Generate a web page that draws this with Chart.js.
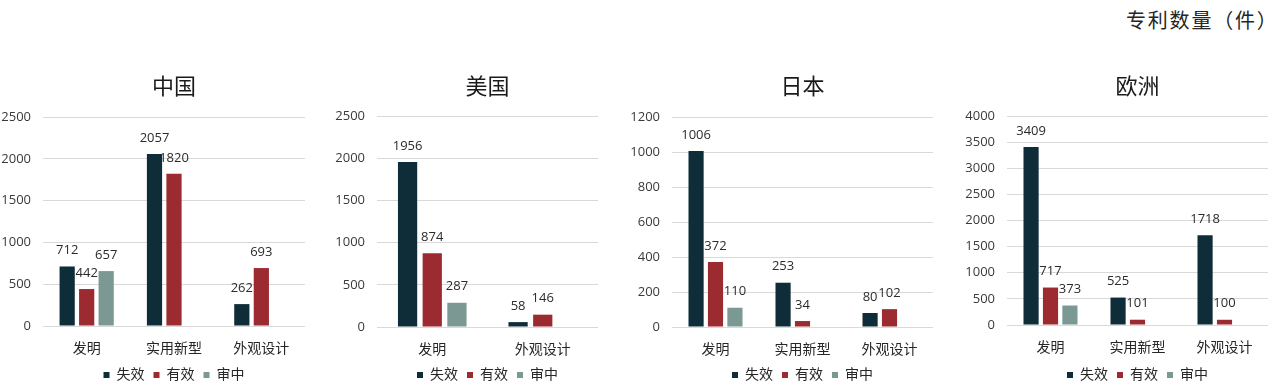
<!DOCTYPE html>
<html>
<head>
<meta charset="utf-8">
<script src="https://cdn.jsdelivr.net/npm/chart.js@4/dist/chart.umd.min.js"></script>
<style>
  html, body { margin: 0; padding: 0; background: #ffffff; }
  body { width: 1269px; height: 392px; position: relative; overflow: hidden; }
  canvas { position: absolute; }
  #unit { position: absolute; left: 1126px; top: 8px; font: 20px 'Noto Sans CJK SC', sans-serif; line-height: 24px; color: #262626; letter-spacing: 1.8px; white-space: nowrap; }
</style>
</head>
<body>
<div id="unit">专利数量（件）</div>
<canvas id="c1" width="320" height="332" style="left:0px;top:60px"></canvas>
<canvas id="c2" width="300" height="332" style="left:320px;top:60px"></canvas>
<canvas id="c3" width="325" height="332" style="left:620px;top:60px"></canvas>
<canvas id="c4" width="324" height="332" style="left:945px;top:60px"></canvas>
<script>
// ---- data ----
const seriesNames = ['失效', '有效', '审中'];
const seriesColors = ['#0f2c39', '#9b2a31', '#7b9992'];

const chinaTitle = '中国';
const chinaCategories = ['发明', '实用新型', '外观设计'];
const chinaLapsed = [712, 2057, 262];
const chinaValid = [442, 1820, 693];
const chinaPending = [657, null, null];
const chinaTicks = { max: 2500, step: 500 };

const usTitle = '美国';
const usCategories = ['发明', '外观设计'];
const usLapsed = [1956, 58];
const usValid = [874, 146];
const usPending = [287, null];
const usTicks = { max: 2500, step: 500 };

const japanTitle = '日本';
const japanCategories = ['发明', '实用新型', '外观设计'];
const japanLapsed = [1006, 253, 80];
const japanValid = [372, 34, 102];
const japanPending = [110, null, null];
const japanTicks = { max: 1200, step: 200 };

const europeTitle = '欧洲';
const europeCategories = ['发明', '实用新型', '外观设计'];
const europeLapsed = [3409, 525, 1718];
const europeValid = [717, 101, 100];
const europePending = [373, null, null];
const europeTicks = { max: 4000, step: 500 };

// ---- rendering ----
const FONT = "'Open Sans', 'Noto Sans CJK SC', sans-serif";

const valueLabels = {
  id: 'valueLabels',
  afterDatasetsDraw(chart) {
    const ctx = chart.ctx;
    ctx.save();
    ctx.font = '13px ' + FONT;
    ctx.fillStyle = '#2b2b2b';
    ctx.textAlign = 'center';
    ctx.textBaseline = 'middle';
    chart.data.datasets.forEach((ds, i) => {
      const meta = chart.getDatasetMeta(i);
      meta.data.forEach((el, j) => {
        const v = ds.data[j];
        if (v === null || v === undefined) return;
        ctx.fillText(String(v), el.x, el.y - 16);
      });
    });
    ctx.restore();
  }
};

function makeChart(id, title, categories, lapsed, valid, pending, ticks, lay) {
  const data = [lapsed, valid, pending];
  new Chart(document.getElementById(id), {
    type: 'bar',
    data: {
      labels: categories,
      datasets: seriesNames.map((name, i) => ({
        label: name,
        data: data[i],
        backgroundColor: seriesColors[i],
        borderColor: seriesColors[i],
        borderWidth: 0,
        categoryPercentage: 0.67,
        barPercentage: 0.78
      }))
    },
    options: {
      responsive: false,
      animation: false,
      devicePixelRatio: 1,
      layout: { padding: { left: 0, right: lay.padRight, top: 0, bottom: 0 } },
      plugins: {
        title: {
          display: true, text: title, fullSize: false,
          color: '#1a1a1a',
          font: { family: FONT, size: 22, weight: 'normal', lineHeight: 1.2 },
          padding: { top: 15, bottom: lay.plotTop - 15 - 26.4 }
        },
        legend: {
          display: true, position: 'bottom', fullSize: false,
          labels: {
            boxWidth: 6, boxHeight: 6, padding: 9,
            color: '#262626',
            font: { family: FONT, size: 14 }
          }
        },
        tooltip: { enabled: false }
      },
      scales: {
        x: {
          grid: { display: false },
          border: { display: false },
          ticks: { color: '#262626', padding: 7, font: { family: FONT, size: 14 } },
          afterFit(scale) { scale.height = 300 - lay.plotBottom; }
        },
        y: {
          min: 0, max: ticks.max,
          grid: { color: '#d9d9d9', lineWidth: 1, drawTicks: false },
          border: { display: false },
          ticks: {
            stepSize: ticks.step, color: '#3a3a3a', padding: 12,
            font: { family: FONT, size: 13 },
            callback: (v) => String(v)
          },
          afterFit(scale) { scale.width = lay.yWidth; }
        }
      }
    },
    plugins: [valueLabels]
  });
}

makeChart('c1', chinaTitle, chinaCategories, chinaLapsed, chinaValid, chinaPending, chinaTicks,
  { yWidth: 43, padRight: 15, plotTop: 57, plotBottom: 267 });
makeChart('c2', usTitle, usCategories, usLapsed, usValid, usPending, usTicks,
  { yWidth: 57, padRight: 22, plotTop: 56, plotBottom: 268 });
makeChart('c3', japanTitle, japanCategories, japanLapsed, japanValid, japanPending, japanTicks,
  { yWidth: 52, padRight: 12, plotTop: 57, plotBottom: 268 });
makeChart('c4', europeTitle, europeCategories, europeLapsed, europeValid, europePending, europeTicks,
  { yWidth: 62, padRight: 1, plotTop: 56, plotBottom: 266 });
</script>
</body>
</html>
